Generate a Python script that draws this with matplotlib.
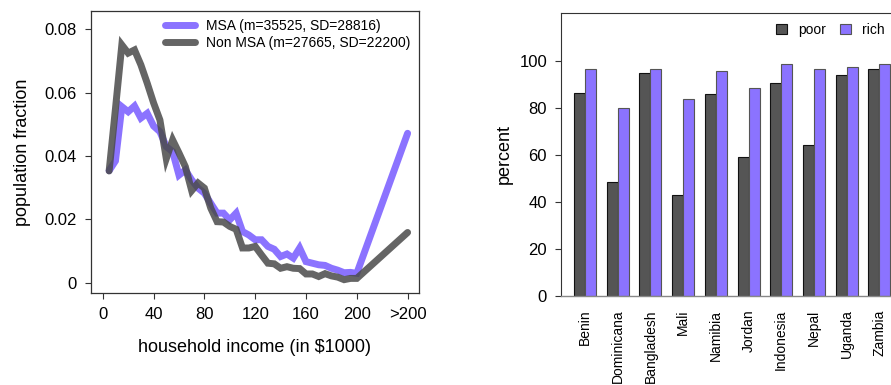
import matplotlib
matplotlib.use("Agg")
import matplotlib.pyplot as plt

# =========================================================
# DATA
# =========================================================

income_bins = [5, 10, 15, 20, 25, 30, 35, 40, 45, 50,
               55, 60, 65, 70, 75, 80, 85, 90, 95, 100,
               105, 110, 115, 120, 125, 130, 135, 140, 145, 150,
               155, 160, 165, 170, 175, 180, 185, 190, 195, 200,
               240]

msa_fraction = [0.0354, 0.0385, 0.0556, 0.0540, 0.0558, 0.0520, 0.0535, 0.0495, 0.0477, 0.0430,
                0.0414, 0.0340, 0.0356, 0.0325, 0.0299, 0.0283, 0.0251, 0.0220, 0.0220, 0.0199,
                0.0220, 0.0162, 0.0151, 0.0136, 0.0136, 0.0115, 0.0106, 0.0083, 0.0091, 0.0078,
                0.0110, 0.0067, 0.0062, 0.0057, 0.0055, 0.0046, 0.0040, 0.0032, 0.0033, 0.0030,
                0.0472]

non_msa_fraction = [0.0353, 0.0550, 0.0751, 0.0725, 0.0735, 0.0688, 0.0630, 0.0568, 0.0514, 0.0392,
                    0.0451, 0.0410, 0.0367, 0.0291, 0.0315, 0.0299, 0.0236, 0.0193, 0.0192, 0.0178,
                    0.0169, 0.0110, 0.0110, 0.0115, 0.0088, 0.0062, 0.0060, 0.0046, 0.0051, 0.0046,
                    0.0045, 0.0028, 0.0028, 0.0020, 0.0029, 0.0022, 0.0018, 0.0010, 0.0014, 0.0014,
                    0.0159]

income_ticks = [0, 40, 80, 120, 160, 200, 240]
income_tick_labels = ["0", "40", "80", "120", "160", "200", ">200"]

countries = ["Benin", "Dominicana", "Bangladesh", "Mali", "Namibia",
             "Jordan", "Indonesia", "Nepal", "Uganda", "Zambia"]

poor_pct = [86.2, 48.3, 94.7, 42.8, 85.8, 58.9, 90.5, 64.2, 94.2, 96.6]
rich_pct = [96.4, 79.8, 96.4, 83.7, 95.7, 88.6, 98.6, 96.4, 97.6, 98.6]

# =========================================================
# STYLE
# =========================================================

plt.rcParams["font.family"] = ["Liberation Sans", "DejaVu Sans"]

PURPLE = "#8b73ff"
DARK = "#555555"
SPINE = "#333333"

fig = plt.figure(figsize=(8.91, 3.85), dpi=100)

# =========================================================
# LEFT PANEL: INCOME DISTRIBUTION
# =========================================================

ax1 = fig.add_axes([0.1018, 0.239, 0.3685, 0.7333])

ax1.plot(
    income_bins,
    msa_fraction,
    color=PURPLE,
    linewidth=5,
    solid_capstyle="round",
    solid_joinstyle="miter",
    label="MSA (m=35525, SD=28816)"
)

ax1.plot(
    income_bins,
    non_msa_fraction,
    color="#4a4a4a",
    alpha=0.85,
    linewidth=5,
    solid_capstyle="round",
    solid_joinstyle="miter",
    label="Non MSA (m=27665, SD=22200)"
)

ax1.set_xlim(-9.5, 249)
ax1.set_ylim(-0.0032, 0.0859)

ax1.set_xticks(income_ticks)
ax1.set_xticklabels(income_tick_labels)
ax1.set_yticks([0, 0.02, 0.04, 0.06, 0.08])
ax1.set_yticklabels(["0", "0.02", "0.04", "0.06", "0.08"])

ax1.tick_params(
    axis="both",
    direction="out",
    length=4,
    width=0.8,
    color=SPINE,
    labelsize=12,
    pad=6
)

for spine in ax1.spines.values():
    spine.set_color(SPINE)
    spine.set_linewidth(0.9)

ax1.set_xlabel("household income (in $1000)", fontsize=13, labelpad=12)
ax1.set_ylabel("population fraction", fontsize=13, labelpad=10)

ax1.legend(
    loc="upper right",
    frameon=False,
    fontsize=10,
    handlelength=2.2,
    handletextpad=0.8,
    labelspacing=0.2,
    borderaxespad=0.2,
    bbox_to_anchor=(1.0, 1.0)
)

# =========================================================
# RIGHT PANEL: POOR VS RICH BARS
# =========================================================

ax2 = fig.add_axes([0.6296, 0.232, 0.3843, 0.7335])

positions = list(range(len(countries)))
bar_width = 0.337

ax2.bar(
    [p - bar_width / 2 for p in positions],
    poor_pct,
    width=bar_width,
    color=DARK,
    edgecolor="#111111",
    linewidth=0.8,
    label="poor"
)

ax2.bar(
    [p + bar_width / 2 for p in positions],
    rich_pct,
    width=bar_width,
    color=PURPLE,
    edgecolor="#555555",
    linewidth=0.8,
    label="rich"
)

ax2.set_xlim(-0.735, 9.735)
ax2.set_ylim(0, 120.3)

ax2.set_yticks([0, 20, 40, 60, 80, 100])
ax2.set_xticks(positions)
ax2.set_xticklabels(countries, rotation=90, fontsize=10)

ax2.tick_params(axis="y", direction="out", length=4, width=0.8,
                color=SPINE, labelsize=12, pad=6)
ax2.tick_params(axis="x", length=0, pad=10)

ax2.spines["left"].set_color(SPINE)
ax2.spines["top"].set_color(SPINE)
ax2.spines["right"].set_visible(False)
ax2.spines["bottom"].set_color("#888888")
ax2.spines["bottom"].set_linewidth(1.0)

ax2.set_ylabel("percent", fontsize=13, labelpad=5)

ax2.legend(
    loc="upper right",
    frameon=False,
    fontsize=10,
    ncol=2,
    handlelength=0.8,
    handleheight=0.8,
    handletextpad=0.8,
    columnspacing=1.0,
    borderaxespad=0.3,
    bbox_to_anchor=(0.975, 1.0)
)

# =========================================================
# SAVE
# =========================================================

fig.savefig("out.png", dpi=100)

plt.close(fig)
